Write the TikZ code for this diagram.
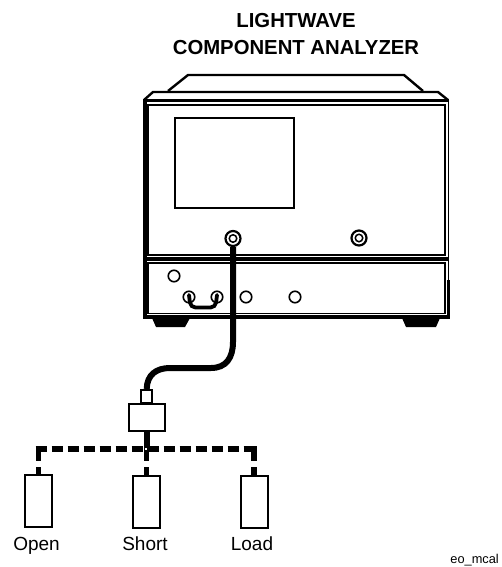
\documentclass[tikz,border=0pt]{standalone}
\usepackage{fontspec}
\setmainfont{Liberation Sans}
\tikzset{
  outline/.style={line width=2.4pt,line join=miter},
  heavy/.style={line width=3.6pt},
  thin frame/.style={line width=1.6pt},
  knob/.style={circle,draw,line width=1.6pt,fill=white,minimum size=11.5pt,inner sep=0pt},
  port/.style={circle,draw,line width=2.2pt,fill=white,minimum size=15pt,inner sep=0pt},
  portring/.style={circle,draw,line width=1.5pt,fill=white,minimum size=7.5pt,inner sep=0pt},
  cablebox/.style={draw,line width=2.4pt,fill=white,inner sep=0pt,anchor=north west},
  calbox/.style={cablebox,minimum width=27pt,minimum height=52pt},
  cable/.style={line width=6pt},
  dashcable/.style={line width=5.5pt,dash pattern=on 11.5pt off 4.5pt},
  stub/.style={line width=5.5pt},
  lbl/.style={font=\fontsize{19}{20}\selectfont,anchor=base,inner sep=0pt},
  title/.style={font=\fontsize{20.3}{24}\selectfont\bfseries,anchor=base,inner sep=0pt},
}
\begin{document}
\begin{tikzpicture}[x=1pt,y=-1pt]
\useasboundingbox[fill=white] (0,0) rectangle (501,567);
% titles
\node[title] (t1) at (296,28) {LIGHTWAVE};
\node[title] (t2) at (296,55) {COMPONENT ANALYZER};
% instrument top
\draw[outline,line join=round] (168,91) -- (188,75) -- (404,75) -- (423,91);
\draw[outline] (144,100) -- (153,92) -- (438,92) -- (448,100);
% body
\draw[heavy] (143,100.5) -- (449,100.5);
\draw[heavy] (145,99) -- (145,319);
\draw[line width=1.8pt] (448.5,99) -- (448.5,280);
\draw[line width=3pt] (448.5,280) -- (448.5,319);
\draw[heavy] (143,259) -- (449,259);
\draw[heavy] (143,317) -- (450,317);
\draw[thin frame] (148,105) rectangle (445,255);
\draw[thin frame] (148,263) rectangle (445,313.5);
% screen
\draw[line width=2pt] (174.5,118.5) rectangle (294,208);
% feet
\fill (152,318) -- (190,318) -- (185,327) -- (156,327) -- cycle;
\fill (402,318) -- (440,318) -- (436,327) -- (406,327) -- cycle;
% lower knobs
\node[knob] (k1) at (174,276) {};
\node[knob] (k2) at (189,297) {};
\node[knob] (k3) at (217,297) {};
\node[knob] (k4) at (246,297) {};
\node[knob] (k5) at (295,297) {};
\draw[line width=3.8pt,line cap=round,rounded corners=5pt] ([yshift=2pt]k2.center) -- (190.5,307.5) -- (215.5,307.5) -- ([yshift=2pt]k3.center);
% ports
\node[port] (p1) at (233,238.5) {};
\node[portring] (p1i) at (233,238.5) {};
\node[port] (p2) at (359,238) {};
\node[portring] (p2i) at (359,238) {};
% adapter and standards
\node[cablebox,minimum width=36pt,minimum height=27pt] (adapter) at (127.5,402.5) {};
\node[cablebox,minimum width=11pt,minimum height=13pt] (plug) at (140,389) {};
\node[calbox] (open) at (24,473.5) {};
\node[calbox] (short) at (132,474.5) {};
\node[calbox] (load) at (239.5,474.5) {};
% cable
\draw[cable] (p1.south) -- (233,342) .. controls (233,358) and (226,368) .. (211,368) -- (170,368) .. controls (156,368) and (147,375) .. (plug.north);
\coordinate (junction) at (adapter.south |- 0,449);
\draw[cable] (adapter.south) -- (junction);
% dashed lines
\draw[dashcable] (35.7,449) -- (255,449);
\coordinate (openstub) at (open.north |- 0,467);
\coordinate (shortstub) at (short.north |- 0,467);
\coordinate (loadstub) at (load.north |- 0,467);
\draw[stub] (openstub |- 0,446.3) -- (openstub |- 0,461);
\draw[stub] (loadstub |- 0,446.3) -- (loadstub |- 0,461);
\draw[stub] (shortstub |- 0,449) -- (shortstub |- 0,461);
\fill[white] (144.5,448) rectangle (146.5,450);
\draw[stub] (openstub) -- (open.north);
\draw[stub] (shortstub) -- (short.north);
\draw[stub] (loadstub) -- (load.north);
% labels
\node[lbl] (lo) at (36.5,550) {Open};
\node[lbl] (ls) at (145,550) {Short};
\node[lbl] (ll) at (252,550) {Load};
\node[font=\fontsize{12.8}{14}\selectfont,anchor=base east,inner sep=0pt] (id) at (499,563) {eo\_mcal};
\end{tikzpicture}
\end{document}
